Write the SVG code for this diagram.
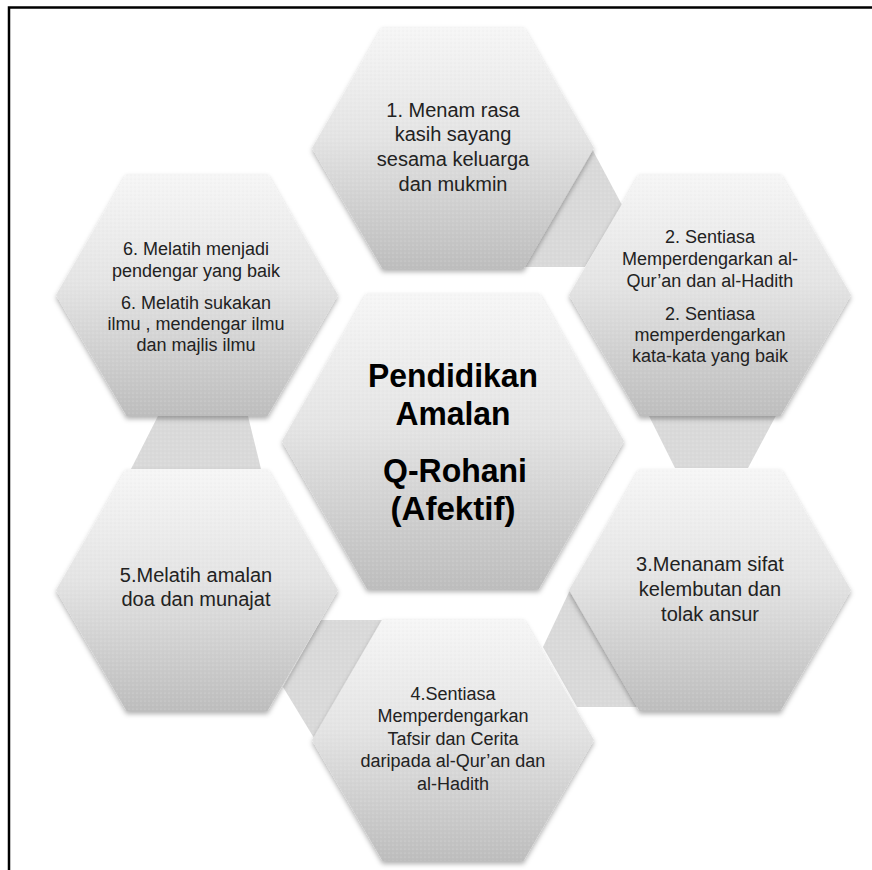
<svg xmlns="http://www.w3.org/2000/svg" width="872" height="870" viewBox="0 0 872 870">
<style>
.hex{fill:url(#hg);filter:url(#sh)}
.dots{fill:url(#dp)}
.con{fill:#d9d9d9}
.t{font-family:"Liberation Sans",Arial,sans-serif;fill:#222;text-anchor:middle}
.s18{font-size:18px}
.s20{font-size:20px}
.ctr{font-family:"Liberation Sans",Arial,sans-serif;font-weight:bold;font-size:34px;fill:#000;text-anchor:middle}
</style>
<defs>
<linearGradient id="hg" x1="0" y1="0" x2="0" y2="1">
<stop offset="0" stop-color="#f6f6f6"/>
<stop offset="0.45" stop-color="#e4e4e4"/>
<stop offset="1" stop-color="#bdbdbd"/>
</linearGradient>
<pattern id="dp" width="4" height="4" patternUnits="userSpaceOnUse">
<circle cx="1" cy="1" r="0.6" fill="#ffffff" fill-opacity="0.35"/>
<circle cx="3" cy="3" r="0.5" fill="#9a9a9a" fill-opacity="0.12"/>
</pattern>
<filter id="sh" x="-10%" y="-10%" width="120%" height="125%">
<feDropShadow dx="0" dy="3" stdDeviation="2.5" flood-color="#000" flood-opacity="0.3"/>
</filter>
</defs>
<rect width="872" height="870" fill="#fff"/>
<path d="M9,870 V7.5 H872" fill="none" stroke="#000" stroke-width="2.5"/>

<g id="connectors">
<polygon class="con" points="590,145 622,205 585,267 515,267"/>
<polygon class="con" points="646,410 779,410 748,468 675,468"/>
<polygon class="con" points="160,412 247,412 261,469 131,469"/>
<polygon class="con" points="321,620 383,620 314,738 283,687"/>
<polygon class="con" points="570,590 543,647 577,707 640,707"/>
<polygon class="dots" points="590,145 622,205 585,267 515,267"/>
<polygon class="dots" points="646,410 779,410 748,468 675,468"/>
<polygon class="dots" points="160,412 247,412 261,469 131,469"/>
<polygon class="dots" points="321,620 383,620 314,738 283,687"/>
<polygon class="dots" points="570,590 543,647 577,707 640,707"/>
</g>

<g id="hex1">
<polygon class="hex" points="312,148 382.5,27 523.5,27 594,148 523.5,269 382.5,269"/>
<polygon class="dots" points="312,148 382.5,27 523.5,27 594,148 523.5,269 382.5,269"/>
<text class="t s20" x="453" y="117">1. Menam rasa</text>
<text class="t s20" x="453" y="141">kasih sayang</text>
<text class="t s20" x="453" y="166">sesama keluarga</text>
<text class="t s20" x="453" y="191">dan mukmin</text>
</g>

<g id="hex2">
<polygon class="hex" points="569,295 639.5,174 780.5,174 851,295 780.5,416 639.5,416"/>
<polygon class="dots" points="569,295 639.5,174 780.5,174 851,295 780.5,416 639.5,416"/>
<text class="t s18" x="710" y="243">2. Sentiasa</text>
<text class="t s18" x="710" y="265">Memperdengarkan al-</text>
<text class="t s18" x="710" y="287">Qur’an dan al-Hadith</text>
<text class="t s18" x="710" y="320">2. Sentiasa</text>
<text class="t s18" x="710" y="341">memperdengarkan</text>
<text class="t s18" x="710" y="362">kata-kata yang baik</text>
</g>

<g id="hex3">
<polygon class="hex" points="569,590 639.5,469 780.5,469 851,590 780.5,711 639.5,711"/>
<polygon class="dots" points="569,590 639.5,469 780.5,469 851,590 780.5,711 639.5,711"/>
<text class="t s20" x="710" y="571">3.Menanam sifat</text>
<text class="t s20" x="710" y="596">kelembutan dan</text>
<text class="t s20" x="710" y="621">tolak ansur</text>
</g>

<g id="hex4">
<polygon class="hex" points="312,740 382.5,619 523.5,619 594,740 523.5,861 382.5,861"/>
<polygon class="dots" points="312,740 382.5,619 523.5,619 594,740 523.5,861 382.5,861"/>
<text class="t s18" x="453" y="700">4.Sentiasa</text>
<text class="t s18" x="453" y="722">Memperdengarkan</text>
<text class="t s18" x="453" y="745">Tafsir dan Cerita</text>
<text class="t s18" x="453" y="767">daripada al-Qur’an dan</text>
<text class="t s18" x="453" y="790">al-Hadith</text>
</g>

<g id="hex5">
<polygon class="hex" points="56,590 126.5,469 267.5,469 338,590 267.5,711 126.5,711"/>
<polygon class="dots" points="56,590 126.5,469 267.5,469 338,590 267.5,711 126.5,711"/>
<text class="t s20" x="196" y="582">5.Melatih amalan</text>
<text class="t s20" x="196" y="606">doa dan munajat</text>
</g>

<g id="hex6">
<polygon class="hex" points="56,295 126.5,174 267.5,174 338,295 267.5,416 126.5,416"/>
<polygon class="dots" points="56,295 126.5,174 267.5,174 338,295 267.5,416 126.5,416"/>
<text class="t s18" x="196" y="255">6. Melatih menjadi</text>
<text class="t s18" x="196" y="277">pendengar yang baik</text>
<text class="t s18" x="196" y="309">6. Melatih sukakan</text>
<text class="t s18" x="196" y="330">ilmu , mendengar ilmu</text>
<text class="t s18" x="196" y="351">dan majlis ilmu</text>
</g>

<g id="center">
<polygon class="hex" points="282,441 367,293 539,293 624,441 539,589 367,589"/>
<polygon class="dots" points="282,441 367,293 539,293 624,441 539,589 367,589"/>
<text class="ctr" x="453" y="387" textLength="170" lengthAdjust="spacingAndGlyphs">Pendidikan</text>
<text class="ctr" x="453" y="425" textLength="115" lengthAdjust="spacingAndGlyphs">Amalan</text>
<text class="ctr" x="455" y="482" textLength="144" lengthAdjust="spacingAndGlyphs">Q-Rohani</text>
<text class="ctr" x="453" y="520" textLength="125" lengthAdjust="spacingAndGlyphs">(Afektif)</text>
</g>
</svg>
